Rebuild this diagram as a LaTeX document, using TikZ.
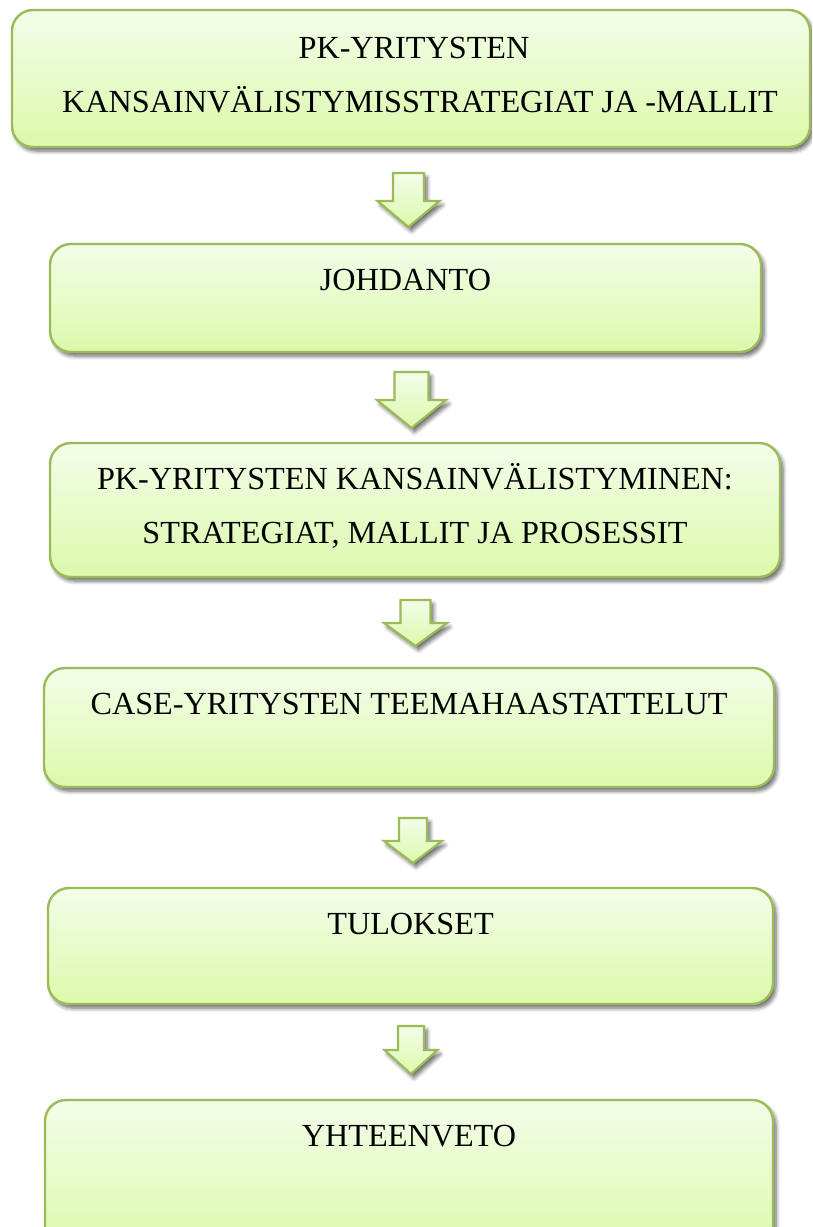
\documentclass[tikz,border=0pt]{standalone}
\usepackage{fontspec}
\setmainfont{Liberation Serif}
\usetikzlibrary{shadows.blur,calc}
\definecolor{olive}{HTML}{9BBB59}
\definecolor{paletop}{HTML}{F4FDE9}
\definecolor{palebot}{HTML}{DBF9AB}
\tikzset{
  stagebox/.style={draw=olive, line width=2.4pt, rounded corners=21pt,
    top color=paletop, bottom color=palebot,
    blur shadow={shadow xshift=3pt, shadow yshift=-4pt, shadow blur steps=6,
      shadow opacity=60, shadow blur radius=4pt}},
  downarrow/.style={draw=olive, line width=2.2pt, line join=miter,
    top color=paletop, bottom color=palebot,
    blur shadow={shadow xshift=3pt, shadow yshift=-4pt, shadow blur steps=6,
      shadow opacity=60, shadow blur radius=4pt}},
  label/.style={font=\fontsize{32.2}{54}\selectfont, align=center, anchor=base,
    inner sep=0pt}
}
% block arrow: #1 = top-centre coordinate, #2 shaft width, #3 head width,
% #4 shaft length, #5 total length
\newcommand\stagearrow[5]{%
  \draw[downarrow] (#1) ++(-#2/2,0) -- ++(#2,0) -- ++(0,#4) -- ++(#3/2-#2/2,0)
    -- ($(#1)+(0,#5)$) -- ($(#1)+(-#3/2,#4)$) -- ($(#1)+(-#2/2,#4)$) -- cycle;}
\begin{document}
\begin{tikzpicture}[x=1pt, y=-1pt]
\useasboundingbox (0,0) rectangle (812,1227);
\begin{scope}
\clip (0,0) rectangle (812,1227);
% stage boxes
\path[stagebox] (12,10) rectangle (810,147);
\node[inner sep=0pt] (box1) at (411,78.5) {};
\path[stagebox] (50,244) rectangle (761,352);
\node[inner sep=0pt] (box2) at (405.5,298) {};
\path[stagebox] (50,443) rectangle (780,577);
\node[inner sep=0pt] (box3) at (415,510) {};
\path[stagebox] (44,668) rectangle (774,787);
\node[inner sep=0pt] (box4) at (409,727.5) {};
\path[stagebox] (48,888) rectangle (773,1004);
\node[inner sep=0pt] (box5) at (410.5,946) {};
\path[stagebox] (45,1100) rectangle (773,1250);
\node[inner sep=0pt] (box6) at (409,1175) {};

% arrows between stages
\coordinate (a1) at (408.5,173);
\coordinate (a2) at (411.5,372);
\coordinate (a3) at (415.5,600);
\coordinate (a4) at (413,818);
\coordinate (a5) at (411,1026);
\stagearrow{a1}{31}{62}{28}{54}
\stagearrow{a2}{34}{69}{28}{56}
\stagearrow{a3}{30}{63}{23}{46}
\stagearrow{a4}{28}{58}{23}{45}
\stagearrow{a5}{26}{53}{24}{48}

% labels (multi-line labels sit on the baseline of their last line)
\node[label] (t1) at (414,112) {PK-YRITYSTEN\\\hspace*{12pt}KANSAINVÄLISTYMISSTRATEGIAT JA -MALLIT};
\node[label] (t2) at (405.5,290) {JOHDANTO};
\node[label] (t3) at (415,543) {PK-YRITYSTEN KANSAINVÄLISTYMINEN:\\STRATEGIAT, MALLIT JA PROSESSIT};
\node[label] (t4) at (409,714) {CASE-YRITYSTEN TEEMAHAASTATTELUT};
\node[label] (t5) at (410.5,934) {TULOKSET};
\node[label] (t6) at (409,1146) {YHTEENVETO};
\end{scope}
\end{tikzpicture}
\end{document}
